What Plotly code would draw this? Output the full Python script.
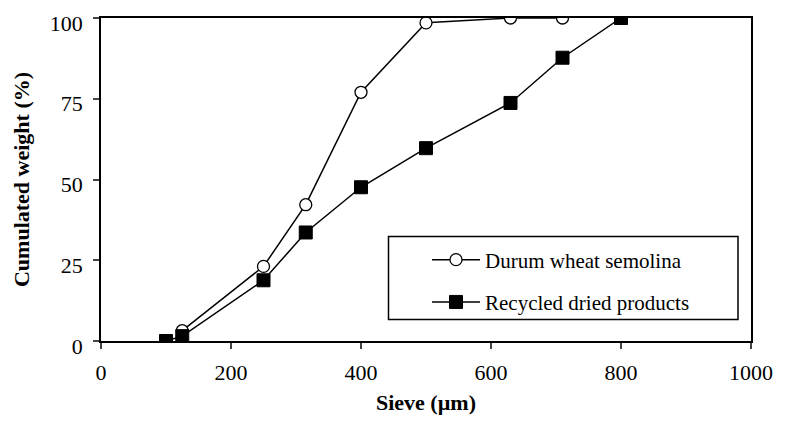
import plotly.graph_objects as go

sieve_durum = [125, 250, 315, 400, 500, 630, 710]
durum = [3.2, 23.1, 42.2, 77.0, 98.5, 100, 100]
sieve_recycled = [100, 125, 250, 315, 400, 500, 630, 710, 800]
recycled = [0, 1.5, 18.8, 33.6, 47.6, 59.7, 73.7, 87.7, 100]
x_ticks = [0, 200, 400, 600, 800, 1000]
y_ticks = [0, 25, 50, 75, 100]

FONT = "Liberation Serif, Times New Roman, serif"

# page offset (body margin) compensation
OX, OY = 8, 8
W, H = 772, 407
PL, PR, PT, PB = 101, 751, 18, 341  # target plot box in page pixels
pw, ph = PR - PL, PB - PT

def px(x):
    return (x - PL) / pw

def py(y):
    return (PB - y) / ph

fig = go.Figure()
fig.add_trace(go.Scatter(
    x=sieve_durum, y=durum, mode="lines+markers", name="Durum wheat semolina",
    legendgroup="a",
    line=dict(color="black", width=1.5),
    marker=dict(symbol="circle", size=12, color="white", line=dict(color="black", width=1.3)),
))
fig.add_trace(go.Scatter(
    x=sieve_recycled, y=recycled, mode="lines+markers", name="Recycled dried products",
    legendgroup="b",
    line=dict(color="black", width=1.5),
    marker=dict(symbol="square", size=13, color="black", line=dict(color="black", width=1)),
))

fig.update_layout(
    width=W, height=H,
    margin=dict(l=PL - OX, r=W - (PR - OX), t=PT - OY, b=H - (PB - OY), autoexpand=False),
    paper_bgcolor="white", plot_bgcolor="white",
    font=dict(family=FONT, color="black"),
    showlegend=True,
    legend=dict(
        x=px(427), y=py(239.5), xanchor="left", yanchor="top",
        bgcolor="rgba(0,0,0,0)", borderwidth=0,
        font=dict(family=FONT, size=21, color="black"),
        traceorder="grouped", tracegroupgap=12, itemwidth=48,
    ),
    shapes=[dict(
        type="rect", xref="paper", yref="paper",
        x0=px(388.5), x1=px(738), y0=py(319.5), y1=py(236.5),
        line=dict(color="black", width=1.5), fillcolor="rgba(0,0,0,0)",
    )],
)
fig.update_xaxes(
    range=[0, 1000], tickvals=x_ticks, ticks="outside", ticklen=6, tickwidth=1.5,
    showline=True, linecolor="black", linewidth=1.5, mirror=True, showgrid=False,
    zeroline=False, tickfont=dict(family=FONT, size=22), ticklabeloverflow="allow",
    ticklabelstandoff=5,
    title=dict(text="<b>Sieve (µm)</b>", font=dict(family=FONT, size=22), standoff=17),
)
fig.update_yaxes(
    range=[0, 100], tickvals=y_ticks, ticks="outside", ticklen=6, tickwidth=1.5,
    showline=True, linecolor="black", linewidth=1.5, mirror=True, showgrid=False,
    zeroline=False, tickfont=dict(family=FONT, size=22), ticklabeloverflow="allow",
    ticklabelstandoff=6, ticklabelshift=5,
    title=dict(text="<b>Cumulated weight (%)</b>", font=dict(family=FONT, size=22), standoff=14),
)
fig.write_html("out.html")
